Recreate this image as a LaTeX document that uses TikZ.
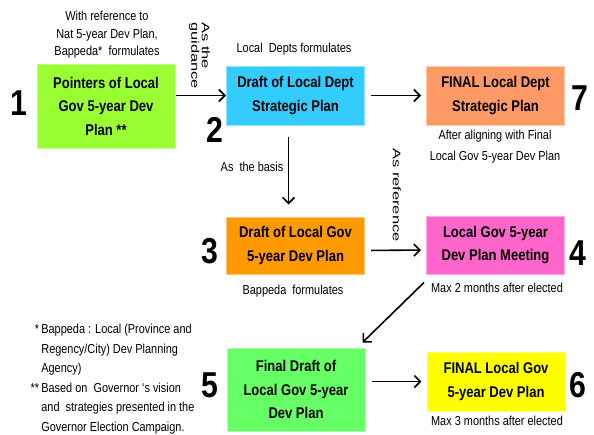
\documentclass[tikz,border=0pt]{standalone}
\usepackage{fontspec}
\setmainfont{Liberation Sans}[FakeStretch=0.84]
\newfontfamily\widesans{Liberation Sans}[FakeStretch=1.5]
\usepackage{xcolor}
\usepackage{tikz}
\usetikzlibrary{arrows.meta,positioning}
\definecolor{pointgreen}{RGB}{153,255,51}
\definecolor{draftcyan}{RGB}{51,204,255}
\definecolor{finalsalmon}{RGB}{255,153,102}
\definecolor{draftorange}{RGB}{255,153,0}
\definecolor{meetpink}{RGB}{255,102,204}
\definecolor{finalgreen}{RGB}{102,255,102}
\definecolor{finalyellow}{RGB}{255,255,0}

\tikzset{
  planbox/.style={fill=#1, draw=#1!55!white, line width=1pt, minimum width=138pt, inner sep=0pt, align=center, font=\fontsize{15.5}{23.5}\selectfont\bfseries},
  note/.style={inner sep=0pt, align=center, font=\fontsize{13}{17.5}\selectfont},
  sidenote/.style={inner sep=0pt, rotate=-90, anchor=north west, align=left, font=\widesans\fontsize{11}{10.5}\selectfont},
  stepnum/.style={inner sep=0pt, font=\fontsize{36}{36}\selectfont\bfseries},
  flow/.style={-{Straight Barb[length=6pt,width=12pt]}, line width=1.6pt}
}

\begin{document}
\begin{tikzpicture}[x=1pt,y=-1pt]
  \useasboundingbox (0,0) rectangle (594,434);

  % plan boxes
  \node[planbox=pointgreen, minimum height=84pt] (b1) at (106,106) {Pointers of Local\\Gov 5-year Dev\\Plan **};
  \node[planbox=draftcyan, minimum height=59pt] (b2) at (295.5,95.5) {Draft of Local Dept\\Strategic Plan};
  \node[planbox=finalsalmon, minimum height=59pt] (b7) at (495.5,95.5) {FINAL Local Dept\\Strategic Plan};
  \node[planbox=draftorange, minimum height=57pt] (b3) at (295.5,245.5) {Draft of Local Gov\\5-year Dev Plan};
  \node[planbox=meetpink, minimum height=58pt] (b4) at (495.5,245) {Local Gov 5-year\\Dev Plan Meeting};
  \node[planbox=finalgreen, minimum height=83pt] (b5) at (296,389.5) {Final Draft of\\Local Gov 5-year\\Dev Plan};
  \node[planbox=finalyellow, minimum height=59pt] (b6) at (496,381.5) {FINAL Local Gov\\5-year Dev Plan};

  % step numbers
  \foreach \n/\px/\py in {1/19/103, 2/215/130, 7/580/98, 3/210/251, 4/578/253, 5/210/385, 6/578/385} {
    \node[stepnum] (num\n) at (\px,\py) {\n};
  }

  % notes
  \node[note] (withref) at (107,35) {With reference to\\Nat 5-year Dev Plan,\\Bappeda*\ \ formulates};
  \node[note] (deptsform) at (294,49) {Local\ \ Depts formulates};
  \node[note, font=\fontsize{13}{21}\selectfont] (aftalign) at (495,146.5) {After aligning with Final\\Local Gov 5-year Dev Plan};
  \node[note] (basis) at (252,167) {As\ \ the basis};
  \node[note] (bapform) at (293,291) {Bappeda\ \ formulates};
  \node[note] (maxtwo) at (497,288) {Max 2 months after elected};
  \node[note] (maxthree) at (497,421) {Max 3 months after elected};
  \node[sidenote] (guide) at (210,22) {As the\\guidance};
  \node[sidenote] (asref) at (401,148) {As reference};

  \node[inner sep=0pt, anchor=north west, font=\fontsize{13}{19.5}\selectfont] (foot) at (30.5,320)
    {\begin{tabular}{@{}r@{\,}l@{}}
      {*} & Bappeda : Local (Province and\\
        & Regency/City) Dev Planning\\
        & Agency)\\
     {**} & Based on\ \ Governor ‘s vision\\
        & and\ \ strategies presented in the\\
        & Governor Election Campaign.
    \end{tabular}};

  % connectors
  \draw[flow] (b1.east |- b2.west) -- (b2.west);
  \draw[flow, shorten <=6pt, shorten >=5pt] (b2) -- (b7);
  \draw[flow, shorten <=11pt, shorten >=12pt] ([xshift=-7pt]b2.south) -- ([xshift=-7pt]b3.north);
  \draw[flow, shorten <=6pt, shorten >=5pt] ([yshift=-5pt]b3.east) -- ([yshift=-5pt]b4.west);
  \draw[flow] ([xshift=-2pt,yshift=-8pt]b4.south west) -- ([xshift=-3pt,yshift=5pt]b5.north east);
  \draw[flow, shorten <=6pt, shorten >=5pt] (b5.east |- b6.west) -- (b6.west);
\end{tikzpicture}
\end{document}
